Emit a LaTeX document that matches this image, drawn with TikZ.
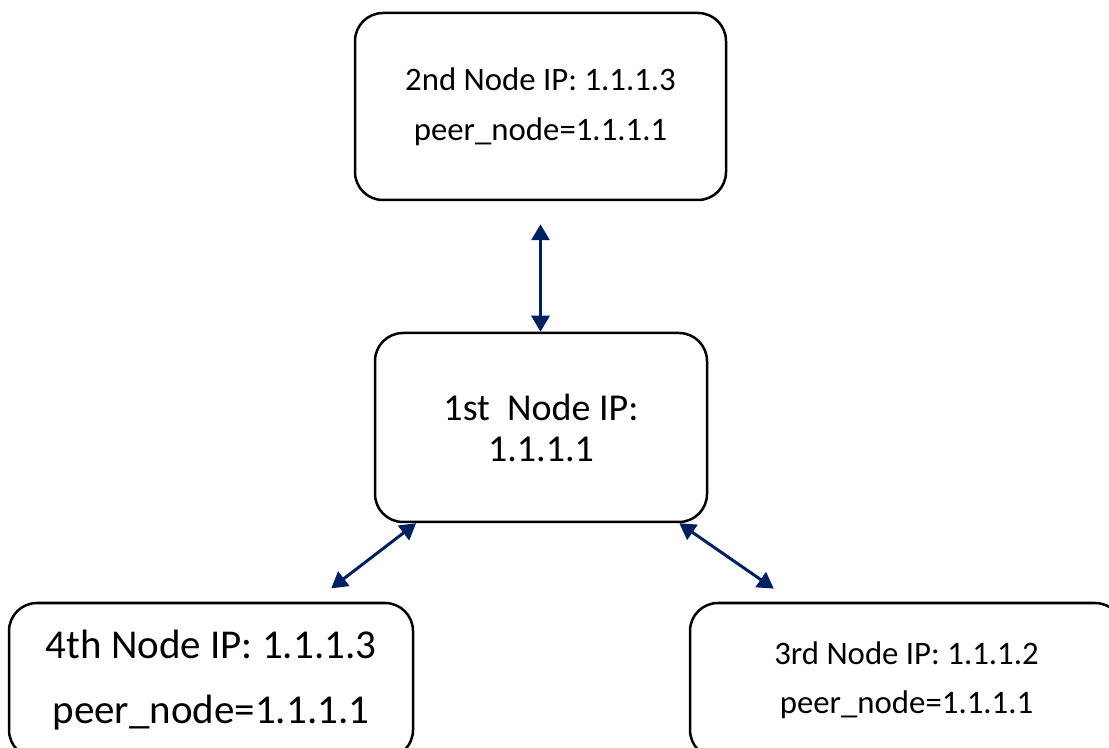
\documentclass[tikz,border=0pt]{standalone}
\usepackage{fontspec}
\setmainfont{Carlito}
\usetikzlibrary{arrows.meta}
\definecolor{linkblue}{RGB}{0,32,96}
\begin{document}
\begin{tikzpicture}[x=0.5pt, y=-0.5pt, line join=round, line cap=round, >={Triangle[length=8pt,width=9pt]},
					box/.style={draw, line width=1.25pt, rounded corners=14pt, align=center, inner sep=0pt},
					link/.style={<->, draw=linkblue, line width=1.5pt}]
					\clip (0,0) rectangle (1109,748);
					\node[box, minimum width=185.5pt, minimum height=93.5pt, font=\fontsize{16.4}{25}\selectfont] (second) at (540.5,106.5)
					{2nd Node IP: 1.1.1.3\\peer\_node=1.1.1.1};
					\node[box, minimum width=166pt, minimum height=94.5pt, font=\fontsize{19}{20.5}\selectfont] (first) at (541,427.5)
					{1st\ \ Node IP:\\1.1.1.1};
					\node[box, minimum width=202pt, minimum height=77.5pt, font=\fontsize{20.5}{32.5}\selectfont] (fourth) at (211,680.5)
					{4th Node IP: 1.1.1.3\\peer\_node=1.1.1.1};
					\node[box, minimum width=216.5pt, minimum height=77.5pt, font=\fontsize{16.4}{24.5}\selectfont] (third) at (906.5,680.5)
					{3rd Node IP: 1.1.1.2\\peer\_node=1.1.1.1};
					\draw[link, shorten <=11.5pt] (second.south) -- (second.south |- first.north);
					\draw[link, shorten >=11pt] (first) -- (fourth);
					\draw[link, shorten >=11.5pt] (first) -- (third);
			\end{tikzpicture}
\end{document}
